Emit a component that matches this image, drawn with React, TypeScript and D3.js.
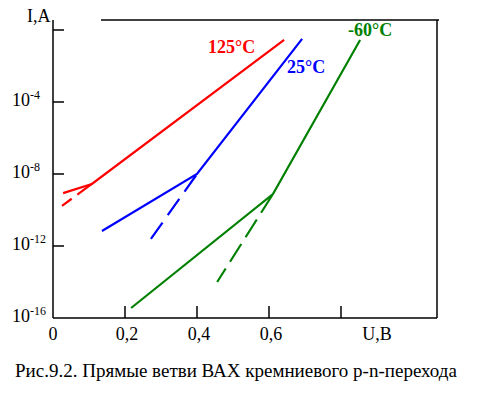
import { useEffect, useRef } from "react";
import * as d3 from "d3";

// temperature of each branch
const seriesNames = ["125°C", "25°C", "-60°C"];
const seriesColors = ["#ff0000", "#0000ff", "#008000"];

// solid branches: voltage U (V) and current I (A)
const solidU = [
  [0.028, 0.108, 0.642],
  [0.136, 0.4, 0.692],
  [0.217, 0.611, 0.853],
];
const solidI = [
  [8.7e-10, 2.8e-9, 2.8e-1],
  [6.8e-12, 1e-8, 3.2e-1],
  [3.6e-16, 7.7e-10, 2.8e-1],
];

// dashed branches
const dashedU = [
  [0.025, 0.108],
  [0.272, 0.4],
  [0.456, 0.611],
];
const dashedI = [
  [1.7e-10, 2.8e-9],
  [2.5e-12, 1e-8],
  [1e-14, 7.7e-10],
];

const yTicks = [1, 1e-4, 1e-8, 1e-12];
const yLabelValues = [1e-4, 1e-8, 1e-12, 1e-16];
const yLabelExps = ["-4", "-8", "-12", "-16"];
const xTicks = [0.2, 0.4, 0.6, 0.8];
const xLabelValues = [0, 0.2, 0.4, 0.6];
const xLabels = ["0", "0,2", "0,4", "0,6"];

const caption = "Рис.9.2. Прямые ветви ВАХ кремниевого p-n-перехода";

function App() {
  const svgRef = useRef<SVGSVGElement>(null);

  useEffect(() => {
    const width = 478;
    const height = 395;
    const font = "'Liberation Serif', 'Times New Roman', serif";

    const x = d3.scaleLinear().domain([0, 1]).range([53, 413]);
    const y = d3.scaleLog().domain([1e-16, 1]).range([318, 30]);

    const svg = d3
      .select(svgRef.current)
      .attr("width", width)
      .attr("height", height)
      .attr("font-family", font);
    svg.selectAll("*").remove();

    svg.append("rect").attr("width", width).attr("height", height).attr("fill", "white");

    // frame
    const frame = svg.append("g").attr("stroke", "black").attr("stroke-width", 1.5).attr("fill", "none");
    frame.append("line").attr("x1", x(0)).attr("x2", x(0)).attr("y1", 20).attr("y2", y(1e-16));
    frame.append("line").attr("x1", x(0)).attr("x2", 437).attr("y1", y(1e-16)).attr("y2", y(1e-16));
    frame.append("line").attr("x1", 437).attr("x2", 437).attr("y1", 20).attr("y2", y(1e-16));
    frame.append("line").attr("x1", 101).attr("x2", 439).attr("y1", 20).attr("y2", 20);

    // y ticks (pointing inward)
    frame
      .selectAll(".yt")
      .data(yTicks)
      .join("line")
      .attr("x1", x(0))
      .attr("x2", x(0) + 11)
      .attr("y1", (d) => y(d))
      .attr("y2", (d) => y(d));

    // x ticks (pointing up)
    frame
      .selectAll(".xt")
      .data(xTicks)
      .join("line")
      .attr("x1", (d) => x(d))
      .attr("x2", (d) => x(d))
      .attr("y1", y(1e-16))
      .attr("y2", y(1e-16) - 12);

    // y labels 10^n
    const yl = svg
      .append("g")
      .selectAll("text")
      .data(yLabelValues)
      .join("text")
      .attr("x", 12)
      .attr("y", (d) => y(d) + 4)
      .attr("font-size", 18);
    yl.append("tspan").text("10");
    yl.append("tspan")
      .attr("dy", -7)
      .attr("font-size", 12)
      .text((d, i) => yLabelExps[i]);

    svg
      .append("text")
      .attr("x", 27)
      .attr("y", 22)
      .attr("font-size", 18)
      .text("I,A");

    // x labels
    svg
      .append("g")
      .selectAll("text")
      .data(xLabelValues)
      .join("text")
      .attr("x", (d) => x(d) + (d === 0 ? 0 : 2))
      .attr("y", 340)
      .attr("text-anchor", "middle")
      .attr("font-size", 18)
      .text((d, i) => xLabels[i]);

    svg
      .append("text")
      .attr("x", x(0.9))
      .attr("y", 340)
      .attr("text-anchor", "middle")
      .attr("font-size", 18)
      .text("U,B");

    // curves
    const line = d3
      .line<[number, number]>()
      .x((d) => x(d[0]))
      .y((d) => y(d[1]));

    const dashes = [
      { arr: "18,7", off: 6 },
      { arr: "20,9", off: 0 },
      { arr: "21,8", off: 5 },
    ];
    const labelOffsets = [
      [-76, 13],
      [-15, 34],
      [-12, -4],
    ];

    seriesNames.forEach((name, i) => {
      const solid = solidU[i].map((u, j) => [u, solidI[i][j]] as [number, number]);
      const dashed = dashedU[i].map((u, j) => [u, dashedI[i][j]] as [number, number]);
      svg
        .append("path")
        .attr("d", line(solid))
        .attr("fill", "none")
        .attr("stroke", seriesColors[i])
        .attr("stroke-width", 2.2);
      svg
        .append("path")
        .attr("d", line(dashed))
        .attr("fill", "none")
        .attr("stroke", seriesColors[i])
        .attr("stroke-width", 2.2)
        .attr("stroke-dasharray", dashes[i].arr)
        .attr("stroke-dashoffset", dashes[i].off);

      const end = solid[solid.length - 1];
      svg
        .append("text")
        .attr("x", x(end[0]) + labelOffsets[i][0])
        .attr("y", y(end[1]) + labelOffsets[i][1])
        .attr("font-size", 18)
        .attr("font-weight", "bold")
        .attr("fill", seriesColors[i])
        .text(name);
    });

    svg
      .append("text")
      .attr("x", 15)
      .attr("y", 377)
      .attr("font-size", 19)
      .text(caption);
  }, []);

  return (
    <svg
      ref={svgRef}
      style={{ position: "absolute", left: 0, top: 0, display: "block" }}
    ></svg>
  );
}

export default App;
